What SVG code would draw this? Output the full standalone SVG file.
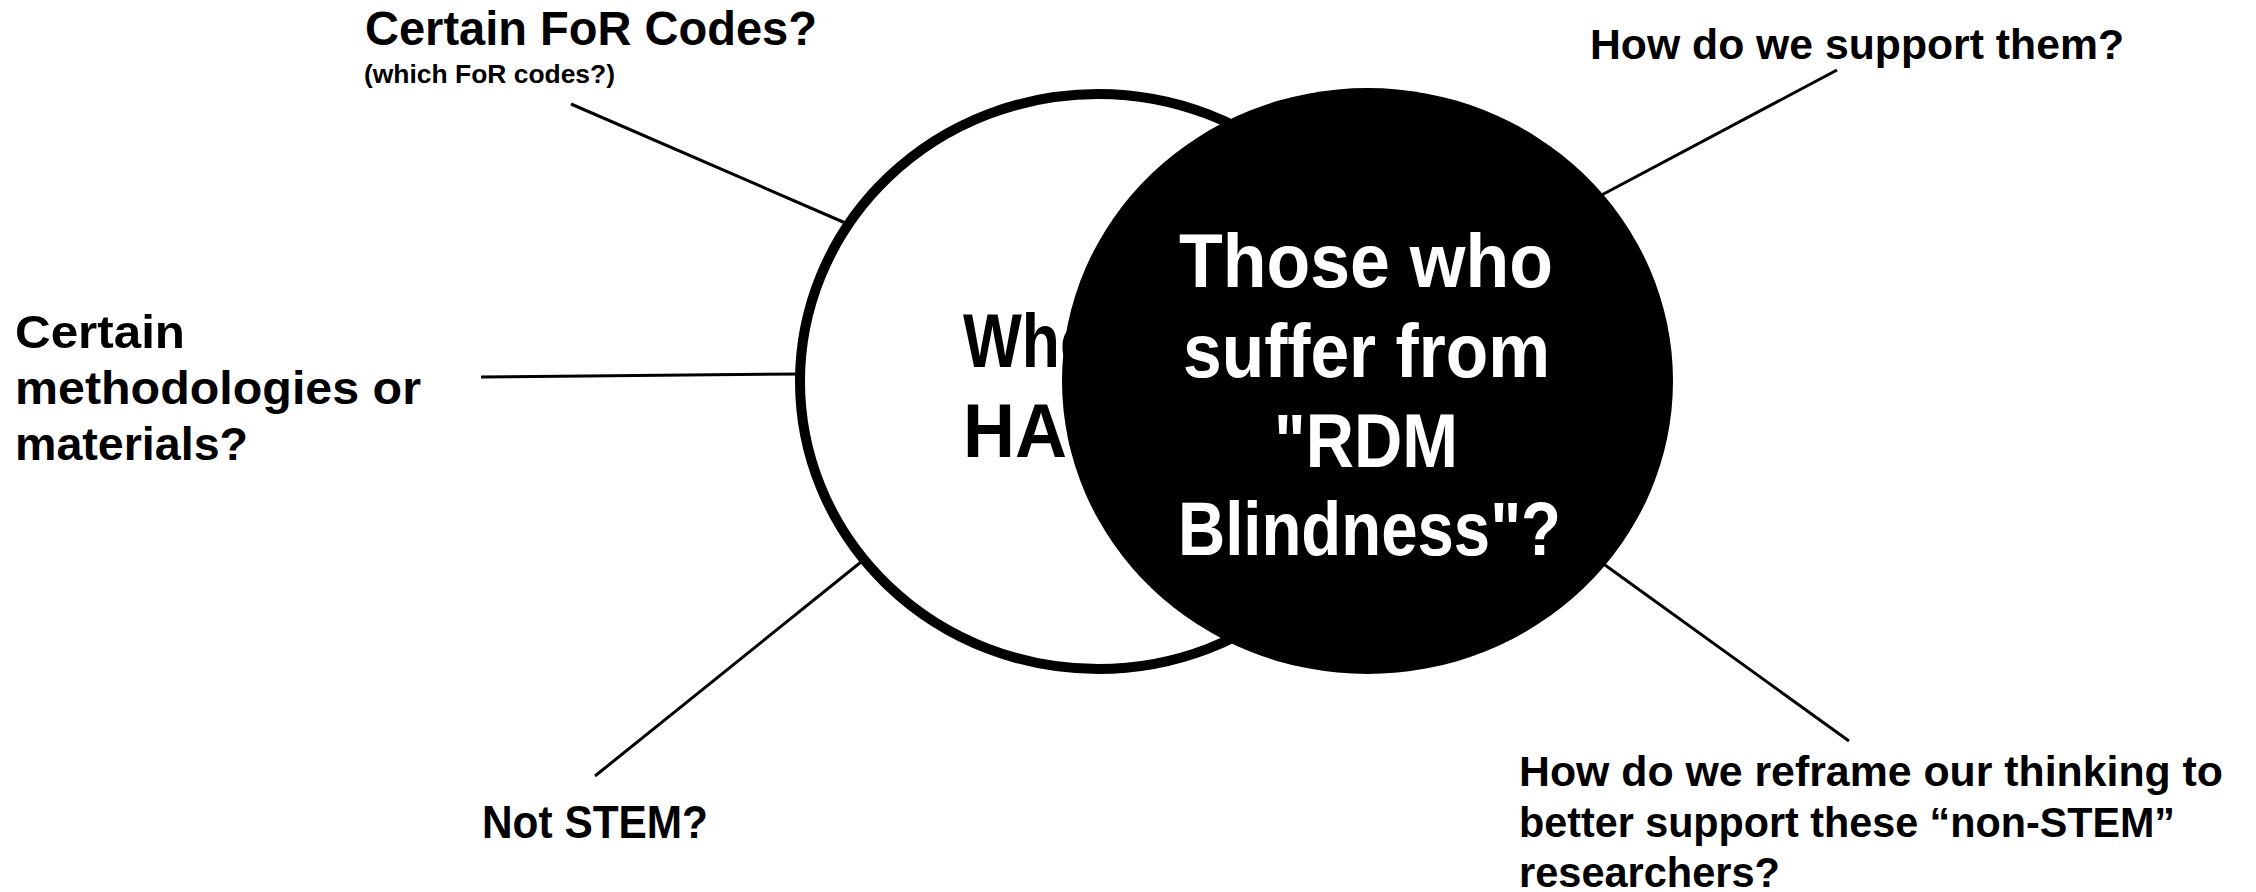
<svg xmlns="http://www.w3.org/2000/svg" width="2256" height="892" viewBox="0 0 2256 892">
<style>
.t{font-family:"Liberation Sans",Arial,sans-serif;font-weight:bold;fill:#000}
.w{fill:#fff}
.c{stroke:#000;stroke-width:3;fill:none;stroke-linecap:butt}
</style>
<rect width="2256" height="892" fill="#fff"/>
<g id="connectors">
<line class="c" x1="571" y1="104" x2="850" y2="225"/>
<line class="c" x1="481" y1="377" x2="802" y2="374"/>
<line class="c" x1="595" y1="776" x2="866" y2="558"/>
<line class="c" x1="1837" y1="70" x2="1596" y2="198"/>
<line class="c" x1="1598" y1="560" x2="1849" y2="741"/>
</g>
<g id="node-hass">
<ellipse cx="1098" cy="381.5" rx="298" ry="287.5" fill="#fff" stroke="#000" stroke-width="10"/>
<text class="t" font-size="76" x="963" y="367" textLength="135" lengthAdjust="spacingAndGlyphs">Who</text>
<text class="t" font-size="76" x="963" y="457" textLength="200" lengthAdjust="spacingAndGlyphs">HASS</text>
</g>
<g id="node-rdm">
<ellipse cx="1367.5" cy="381" rx="305.5" ry="293" fill="#000"/>
<text class="t w" font-size="76" x="1179" y="287" textLength="374" lengthAdjust="spacingAndGlyphs">Those who</text>
<text class="t w" font-size="76" x="1183" y="377" textLength="367" lengthAdjust="spacingAndGlyphs">suffer from</text>
<text class="t w" font-size="76" x="1274" y="467" textLength="184" lengthAdjust="spacingAndGlyphs">"RDM</text>
<text class="t w" font-size="76" x="1178" y="555" textLength="383" lengthAdjust="spacingAndGlyphs">Blindness"?</text>
</g>
<g id="label-for">
<text class="t" font-size="48" x="365" y="45" textLength="452" lengthAdjust="spacingAndGlyphs">Certain FoR Codes?</text>
<text class="t" font-size="26" x="364" y="83" textLength="251" lengthAdjust="spacingAndGlyphs">(which FoR codes?)</text>
</g>
<g id="label-methods">
<text class="t" font-size="47" x="15" y="348" textLength="170" lengthAdjust="spacingAndGlyphs">Certain</text>
<text class="t" font-size="47" x="15" y="404" textLength="406" lengthAdjust="spacingAndGlyphs">methodologies or</text>
<text class="t" font-size="47" x="15" y="460" textLength="233" lengthAdjust="spacingAndGlyphs">materials?</text>
</g>
<g id="label-stem">
<text class="t" font-size="46" x="482" y="838" textLength="226" lengthAdjust="spacingAndGlyphs">Not STEM?</text>
</g>
<g id="label-support">
<text class="t" font-size="43" x="1590" y="59" textLength="534" lengthAdjust="spacingAndGlyphs">How do we support them?</text>
</g>
<g id="label-reframe">
<text class="t" font-size="42" x="1519" y="786" textLength="704" lengthAdjust="spacingAndGlyphs">How do we reframe our thinking to</text>
<text class="t" font-size="42" x="1519" y="837" textLength="656" lengthAdjust="spacingAndGlyphs">better support these “non-STEM”</text>
<text class="t" font-size="42" x="1519" y="887" textLength="261" lengthAdjust="spacingAndGlyphs">researchers?</text>
</g>
</svg>
